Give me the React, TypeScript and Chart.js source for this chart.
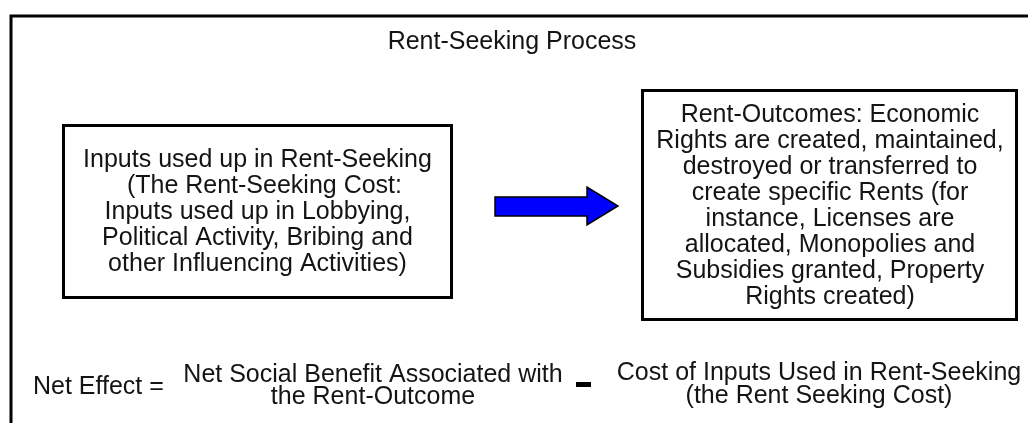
import { useEffect, useRef } from "react";
import { Chart, registerables } from "chart.js";

Chart.register(...registerables);

// ---- content (text of the diagram) ----
const titleText = "Rent-Seeking Process";
const inputLines = [
  "Inputs used up in Rent-Seeking",
  "  (The Rent-Seeking Cost:",
  "Inputs used up in Lobbying,",
  "Political Activity, Bribing and",
  "other Influencing Activities)",
];
const outcomeLines = [
  "Rent-Outcomes: Economic",
  "Rights are created, maintained,",
  "destroyed or transferred to",
  "create specific Rents (for",
  "instance, Licenses are",
  "allocated, Monopolies and",
  "Subsidies granted, Property",
  "Rights created)",
];
const netLabel = "Net Effect =";
const benefitLines = ["Net Social Benefit Associated with", "the Rent-Outcome"];
const costLines = ["Cost of Inputs Used in Rent-Seeking", "(the Rent Seeking Cost)"];

// ---- layout (diagram units = page pixels) ----
const W = 1028;
const H = 423;
const FONT = "25px 'Liberation Sans', Arial, sans-serif";
const TEXT_COLOR = "#141414";
const L = {
  frame: { x: 11, y: 16 },
  title: { x: 512, y: 49 },
  leftBox: { x0: 63.5, y0: 125.5, x1: 451.5, y1: 297.5, cx: 257.5, firstBase: 167, step: 26 },
  rightBox: { x0: 642.5, y0: 90.5, x1: 1016.5, y1: 319.5, cx: 830, firstBase: 122, step: 26 },
  arrow: { x0: 495, x1: 587, xt: 618, sy0: 197, sy1: 216, hy0: 187, hy1: 225, ty: 206 },
  net: { x: 33, y: 394 },
  benefit: { cx: 373, b1: 382, b2: 404 },
  minus: { x: 576, y: 382, w: 15, h: 5 },
  cost: { cx: 819, b1: 380, b2: 403 },
};

const diagramPlugin = {
  id: "diagram",
  beforeDraw(chart: any) {
    const { ctx } = chart;
    ctx.save();
    ctx.fillStyle = "#ffffff";
    ctx.fillRect(0, 0, chart.width, chart.height);
    ctx.restore();
  },
  afterDraw(chart: any) {
    const { ctx } = chart;
    const xs = chart.scales.x;
    const ys = chart.scales.y;
    const px = (v: number) => xs.getPixelForValue(v);
    const py = (v: number) => ys.getPixelForValue(v);

    ctx.save();
    // outer frame (open on right and bottom)
    ctx.strokeStyle = "#000";
    ctx.lineWidth = 3;
    ctx.beginPath();
    ctx.moveTo(px(L.frame.x), py(H + 10));
    ctx.lineTo(px(L.frame.x), py(L.frame.y));
    ctx.lineTo(px(W + 10), py(L.frame.y));
    ctx.stroke();

    // boxes
    const box = (b: any) => {
      ctx.lineWidth = 3;
      ctx.strokeStyle = "#000";
      ctx.strokeRect(px(b.x0), py(b.y0), px(b.x1) - px(b.x0), py(b.y1) - py(b.y0));
    };
    box(L.leftBox);
    box(L.rightBox);

    // arrow
    const a = L.arrow;
    ctx.beginPath();
    ctx.moveTo(px(a.x0), py(a.sy0));
    ctx.lineTo(px(a.x1), py(a.sy0));
    ctx.lineTo(px(a.x1), py(a.hy0));
    ctx.lineTo(px(a.xt), py(a.ty));
    ctx.lineTo(px(a.x1), py(a.hy1));
    ctx.lineTo(px(a.x1), py(a.sy1));
    ctx.lineTo(px(a.x0), py(a.sy1));
    ctx.closePath();
    ctx.fillStyle = "#0000ff";
    ctx.fill();
    ctx.lineWidth = 1.5;
    ctx.strokeStyle = "#000";
    ctx.lineJoin = "miter";
    ctx.stroke();

    // texts
    ctx.font = FONT;
    ctx.fillStyle = TEXT_COLOR;
    ctx.textBaseline = "alphabetic";
    ctx.textAlign = "center";
    ctx.fillText(titleText, px(L.title.x), py(L.title.y));
    inputLines.forEach((t, i) => {
      ctx.fillText(t, px(L.leftBox.cx), py(L.leftBox.firstBase + i * L.leftBox.step));
    });
    outcomeLines.forEach((t, i) => {
      ctx.fillText(t, px(L.rightBox.cx), py(L.rightBox.firstBase + i * L.rightBox.step));
    });
    ctx.fillText(benefitLines[0], px(L.benefit.cx), py(L.benefit.b1));
    ctx.fillText(benefitLines[1], px(L.benefit.cx), py(L.benefit.b2));
    ctx.fillText(costLines[0], px(L.cost.cx), py(L.cost.b1));
    ctx.fillText(costLines[1], px(L.cost.cx), py(L.cost.b2));
    ctx.textAlign = "left";
    ctx.fillText(netLabel, px(L.net.x), py(L.net.y));

    // minus sign
    ctx.fillStyle = "#000";
    ctx.fillRect(px(L.minus.x), py(L.minus.y), px(L.minus.x + L.minus.w) - px(L.minus.x), py(L.minus.y + L.minus.h) - py(L.minus.y));
    ctx.restore();
  },
};

export default function App() {
  const ref = useRef<HTMLCanvasElement | null>(null);
  useEffect(() => {
    document.body.style.margin = "0";
    const canvas = ref.current;
    if (!canvas) return;
    const chart = new Chart(canvas, {
      type: "scatter",
      data: { datasets: [{ data: [], pointRadius: 0 }] },
      options: {
        animation: false,
        responsive: false,
        devicePixelRatio: 1,
        layout: { padding: 0 },
        events: [],
        plugins: { legend: { display: false }, tooltip: { enabled: false }, title: { display: false } },
        scales: {
          x: { type: "linear", min: 0, max: W, display: false },
          y: { type: "linear", min: 0, max: H, reverse: true, display: false },
        },
      },
      plugins: [diagramPlugin],
    });
    return () => chart.destroy();
  }, []);
  return (
    <div style={{ width: W, height: H }}>
      <canvas ref={ref} width={W} height={H} style={{ display: "block" }} />
    </div>
  );
}
